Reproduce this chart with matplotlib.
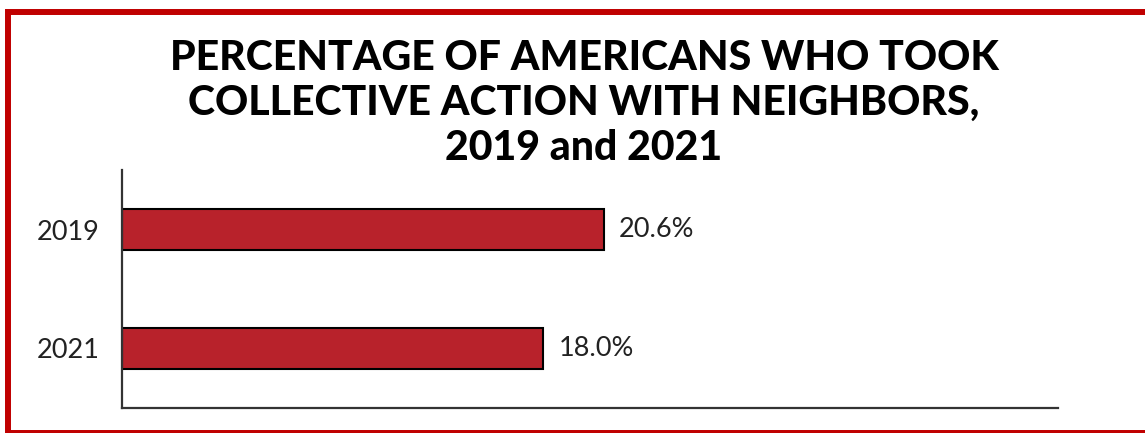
import matplotlib.pyplot as plt
from matplotlib.patches import Rectangle

years = ["2019", "2021"]
values = [20.6, 18.0]
labels = ["20.6%", "18.0%"]

bar_color = "#B8222B"

fig = plt.figure(figsize=(11.45, 4.33), dpi=100)
W, H = 1145, 433

# axes: left 122, right 1058, top 170, bottom 408 (pixels)
ax = fig.add_axes([122 / W, 1 - 408 / H, (1058 - 122) / W, (408 - 170) / H])
ax.barh(years, values, height=0.34, color=bar_color, edgecolor="black", linewidth=1.5)
ax.set_xlim(0, 40)
ax.set_ylim(1.5, -0.5)

for i, (v, lab) in enumerate(zip(values, labels)):
    ax.text(v + 0.65, i, lab, va="center", ha="left", fontsize=19.5, family="Lato", color="#222222")

ax.set_xticks([])
ax.tick_params(axis="y", length=0, pad=16, labelsize=19.5, labelcolor="#222222")
for t in ax.get_yticklabels():
    t.set_family("Lato")
ax.spines["top"].set_visible(False)
ax.spines["right"].set_visible(False)
for s in ["left", "bottom"]:
    ax.spines[s].set_color("#333333")
    ax.spines[s].set_linewidth(1.6)

fig.text(584 / W, 1 - 103 / H,
         "PERCENTAGE OF AMERICANS WHO TOOK\nCOLLECTIVE ACTION WITH NEIGHBORS,\n2019 and 2021",
         ha="center", va="center", fontsize=29.5, family="Lato", fontweight="black",
         linespacing=1.22, color="black")

# red frame around the figure
fig.patches.append(Rectangle((8 / W, 1 - 432.5 / H), 1.2, (432.5 - 12) / H,
                             transform=fig.transFigure, fill=False,
                             edgecolor="#C00000", linewidth=4.3))

fig.savefig("out.png", dpi=100)
